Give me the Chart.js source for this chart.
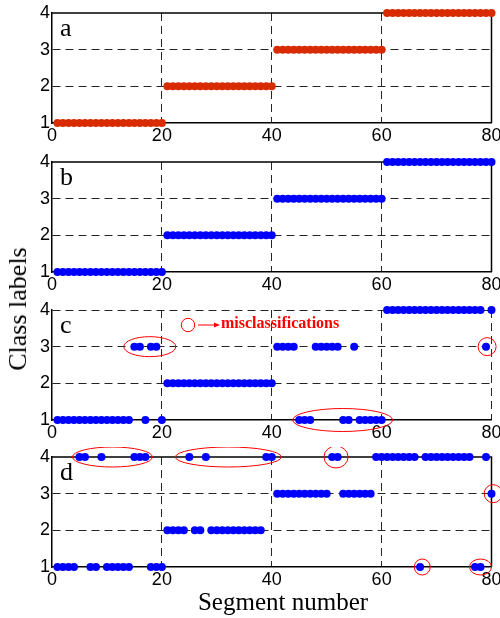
<!DOCTYPE html>
<html>
<head>
<meta charset="utf-8">
<title>Class labels per segment</title>
<script src="https://cdn.jsdelivr.net/npm/chart.js@4.4.1/dist/chart.umd.min.js"></script>
<style>
  body { margin: 0; background: #fff; }
  #wrap { position: relative; width: 500px; height: 618px; background: #fff; overflow: hidden; }
  #wrap canvas { position: absolute; left: 0; }
  .axis-title { position: absolute; font-family: "Liberation Serif", "Times New Roman", serif; color: #000; white-space: nowrap; line-height: 1; }
  #ytitle { left: 18px; top: 309px; font-size: 26px; transform: translate(-50%, -50%) rotate(-90deg); }
  #xtitle { left: 283px; top: 589px; font-size: 25px; transform: translateX(-50%); }
</style>
</head>
<body>
<div id="wrap">
  <canvas id="panelA" width="500" height="148" style="top:3px"></canvas>
  <canvas id="panelB" width="500" height="148" style="top:152px"></canvas>
  <canvas id="panelC" width="500" height="148" style="top:300px"></canvas>
  <canvas id="panelD" width="500" height="148" style="top:447px"></canvas>
  <div id="ytitle" class="axis-title">Class labels</div>
  <div id="xtitle" class="axis-title">Segment number</div>
</div>
<script>
// segment numbers along the x axis
const segments = [
  1, 2, 3, 4, 5, 6, 7, 8, 9, 10, 11, 12, 13, 14, 15, 16, 17, 18, 19, 20,
  21, 22, 23, 24, 25, 26, 27, 28, 29, 30, 31, 32, 33, 34, 35, 36, 37, 38, 39, 40,
  41, 42, 43, 44, 45, 46, 47, 48, 49, 50, 51, 52, 53, 54, 55, 56, 57, 58, 59, 60,
  61, 62, 63, 64, 65, 66, 67, 68, 69, 70, 71, 72, 73, 74, 75, 76, 77, 78, 79, 80
];

// a: true classes
const labelsA = [
  1, 1, 1, 1, 1, 1, 1, 1, 1, 1, 1, 1, 1, 1, 1, 1, 1, 1, 1, 1,
  2, 2, 2, 2, 2, 2, 2, 2, 2, 2, 2, 2, 2, 2, 2, 2, 2, 2, 2, 2,
  3, 3, 3, 3, 3, 3, 3, 3, 3, 3, 3, 3, 3, 3, 3, 3, 3, 3, 3, 3,
  4, 4, 4, 4, 4, 4, 4, 4, 4, 4, 4, 4, 4, 4, 4, 4, 4, 4, 4, 4
];

// b: classifier with no errors
const labelsB = [
  1, 1, 1, 1, 1, 1, 1, 1, 1, 1, 1, 1, 1, 1, 1, 1, 1, 1, 1, 1,
  2, 2, 2, 2, 2, 2, 2, 2, 2, 2, 2, 2, 2, 2, 2, 2, 2, 2, 2, 2,
  3, 3, 3, 3, 3, 3, 3, 3, 3, 3, 3, 3, 3, 3, 3, 3, 3, 3, 3, 3,
  4, 4, 4, 4, 4, 4, 4, 4, 4, 4, 4, 4, 4, 4, 4, 4, 4, 4, 4, 4
];

// c
const labelsC = [
  1, 1, 1, 1, 1, 1, 1, 1, 1, 1, 1, 1, 1, 1, 3, 3, 1, 3, 3, 1,
  2, 2, 2, 2, 2, 2, 2, 2, 2, 2, 2, 2, 2, 2, 2, 2, 2, 2, 2, 2,
  3, 3, 3, 3, 1, 1, 1, 3, 3, 3, 3, 3, 1, 1, 3, 1, 1, 1, 1, 1,
  4, 4, 4, 4, 4, 4, 4, 4, 4, 4, 4, 4, 4, 4, 4, 4, 4, 4, 3, 4
];

// d
const labelsD = [
  1, 1, 1, 1, 4, 4, 1, 1, 4, 1, 1, 1, 1, 1, 4, 4, 4, 1, 1, 1,
  2, 2, 2, 2, 4, 2, 2, 4, 2, 2, 2, 2, 2, 2, 2, 2, 2, 2, 4, 4,
  3, 3, 3, 3, 3, 3, 3, 3, 3, 3, 4, 4, 3, 3, 3, 3, 3, 3, 4, 4,
  4, 4, 4, 4, 4, 4, 1, 4, 4, 4, 4, 4, 4, 4, 4, 4, 1, 1, 4, 3
];

const xTicks = [0, 20, 40, 60, 80];
const yTicks = [1, 2, 3, 4];

// red rings around the misclassified segments (centre in segment / class units)
const ringsC = [
  { x: 17.8, y: 3 },
  { x: 52.9, y: 1 },
  { x: 79.2, y: 3 }
];
const ringsD = [
  { x: 11.0, y: 4 },
  { x: 32.1, y: 4 },
  { x: 51.7, y: 4 },
  { x: 80.3, y: 3 },
  { x: 67.4, y: 1 },
  { x: 78.0, y: 1 }
];
// ring radii in pixels
const ringSizeC = [[26, 10], [50, 11.5], [9, 9]];
const ringSizeD = [[40, 10], [53, 10], [12, 11], [9, 9], [8, 8], [11, 8]];

const SERIF = '"Liberation Serif", "Times New Roman", serif';
const SANS = '"Liberation Sans", Arial, sans-serif';
const GRID = 'rgba(0,0,0,0.85)';
const NONE = 'rgba(0,0,0,0)';

const panelDecor = {
  id: 'panelDecor',
  beforeDatasetsDraw(chart, args, opts) {
    const { ctx, chartArea: a } = chart;
    ctx.save();
    if (opts.boxed) {
      ctx.strokeStyle = '#000';
      ctx.lineWidth = 1.5;
      ctx.beginPath();
      ctx.moveTo(a.left, a.top);
      ctx.lineTo(a.right, a.top);
      ctx.lineTo(a.right, a.bottom);
      ctx.stroke();
    }
    ctx.fillStyle = '#000';
    ctx.font = '26px ' + SERIF;
    ctx.textBaseline = 'alphabetic';
    ctx.textAlign = 'left';
    ctx.fillText(opts.letter, a.left + 8, a.top + 23);
    ctx.restore();
  },
  afterDatasetsDraw(chart, args, opts) {
    const { ctx, chartArea: a, scales } = chart;
    ctx.save();
    ctx.strokeStyle = '#ff0000';
    ctx.lineWidth = 1;
    (opts.rings || []).forEach((r, i) => {
      const [rx, ry] = opts.sizes[i];
      ctx.beginPath();
      ctx.ellipse(scales.x.getPixelForValue(r.x), scales.y.getPixelForValue(r.y), rx, ry, 0, 0, Math.PI * 2);
      ctx.stroke();
    });
    if (opts.note) {
      // small legend: ring -> "misclassifications"
      const cx = a.left + 136, cy = a.top + 15;
      ctx.beginPath();
      ctx.arc(cx, cy, 6.7, 0, Math.PI * 2);
      ctx.stroke();
      ctx.beginPath();
      ctx.moveTo(cx + 10, cy);
      ctx.lineTo(cx + 27, cy);
      ctx.stroke();
      ctx.fillStyle = '#ff0000';
      ctx.beginPath();
      ctx.moveTo(cx + 32, cy);
      ctx.lineTo(cx + 26, cy - 2.5);
      ctx.lineTo(cx + 26, cy + 2.5);
      ctx.closePath();
      ctx.fill();
      ctx.font = 'bold 16px ' + SERIF;
      ctx.textBaseline = 'middle';
      ctx.textAlign = 'left';
      ctx.fillText(opts.note, cx + 33, cy - 1);
    }
    ctx.restore();
  }
};

function makePanel(id, labels, color, decor) {
  const points = segments.map((s, i) => ({ x: s, y: labels[i] }));
  const dashedEdge = !decor.boxed;
  return new Chart(document.getElementById(id), {
    type: 'scatter',
    data: {
      datasets: [{
        data: points,
        backgroundColor: color,
        borderWidth: 0,
        pointRadius: 4,
        pointHoverRadius: 4,
        clip: false
      }]
    },
    options: {
      responsive: false,
      animation: false,
      events: [],
      layout: { padding: { left: 0, right: 8.5, top: 10, bottom: 0 } },
      plugins: {
        legend: { display: false },
        tooltip: { enabled: false },
        panelDecor: decor
      },
      scales: {
        x: {
          type: 'linear',
          min: 0,
          max: 80,
          afterBuildTicks: s => { s.ticks = xTicks.map(v => ({ value: v })); },
          afterFit: s => { s.height = 28; s.paddingLeft = 0; s.paddingRight = 0; },
          ticks: { color: '#000', padding: 2, maxRotation: 0, font: { family: SANS, size: 18 } },
          grid: {
            drawTicks: false,
            lineWidth: 1,
            color: c => {
              const v = c.tick && c.tick.value;
              if (v === 0) return NONE;
              if (v === 80) return dashedEdge ? GRID : NONE;
              return GRID;
            }
          },
          border: { display: true, color: '#000', width: 1.5, dash: [8, 5] }
        },
        y: {
          type: 'linear',
          min: 1,
          max: 4,
          afterBuildTicks: s => { s.ticks = yTicks.map(v => ({ value: v })); },
          afterFit: s => { s.width = 52; s.paddingTop = 0; s.paddingBottom = 0; },
          ticks: { color: '#000', padding: 2, font: { family: SANS, size: 18 } },
          grid: {
            drawTicks: false,
            lineWidth: 1,
            color: c => {
              const v = c.tick && c.tick.value;
              if (v === 1) return NONE;
              if (v === 4) return dashedEdge ? GRID : NONE;
              return GRID;
            }
          },
          border: { display: true, color: '#000', width: 1.5, dash: [8, 5] }
        }
      }
    },
    plugins: [panelDecor]
  });
}

makePanel('panelA', labelsA, '#d92b00', { letter: 'a', boxed: true });
makePanel('panelB', labelsB, '#0000ff', { letter: 'b', boxed: true });
makePanel('panelC', labelsC, '#0000ff', { letter: 'c', boxed: false, rings: ringsC, sizes: ringSizeC, note: 'misclassifications' });
makePanel('panelD', labelsD, '#0000ff', { letter: 'd', boxed: true, rings: ringsD, sizes: ringSizeD });
</script>
</body>
</html>
